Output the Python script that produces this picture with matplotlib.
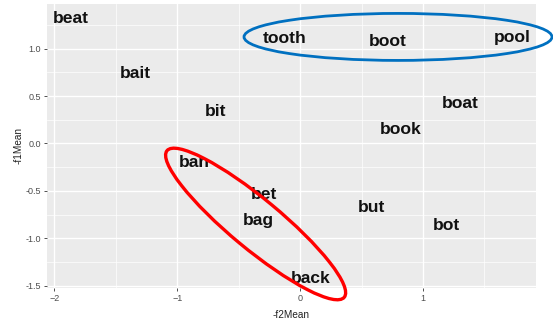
import numpy as np
import matplotlib
matplotlib.use("Agg")
import matplotlib.pyplot as plt
from matplotlib.patches import Ellipse
from matplotlib.transforms import IdentityTransform, ScaledTranslation

# vowel space: negated formant means per word
words = ["beat", "tooth", "boot", "pool", "bait", "bit", "boat", "book",
         "ban", "bet", "bag", "but", "bot", "back"]
f2_neg = [-1.87, -0.13, 0.71, 1.73, -1.34, -0.69, 1.30, 0.82,
          -0.86, -0.29, -0.34, 0.58, 1.19, 0.09]
f1_neg = [1.334, 1.123, 1.10, 1.14, 0.754, 0.353, 0.441, 0.165,
          -0.183, -0.52, -0.79, -0.655, -0.84, -1.40]

x_ticks = [-2, -1, 0, 1]
y_ticks = [-1.5, -1.0, -0.5, 0.0, 0.5, 1.0]
y_tick_labels = ["-1.5", "-1.0", "-0.5", "0.0", "0.5", "1.0"]

plt.rcParams['font.family'] = ['Liberation Sans', 'DejaVu Sans']

W, H = 553, 322
fig = plt.figure(figsize=(W / 100, H / 100), dpi=100)
ax = fig.add_axes([47 / W, (H - 288) / H, (536 - 47) / W, (288 - 4) / H])
ax.set_facecolor("#EBEBEB")
for s in ax.spines.values():
    s.set_visible(False)

ax.set_xlim(-2.06, 1.92)
ax.set_ylim(-1.524, 1.47)

# grid, ggplot style
for v in np.arange(-1.5, 2.0, 1.0):
    ax.axvline(v, color="white", lw=0.5, zorder=0)
for v in np.arange(-1.25, 1.5, 0.5):
    ax.axhline(v, color="white", lw=0.5, zorder=0)
for v in x_ticks:
    ax.axvline(v, color="white", lw=1.0, zorder=0)
for v in y_ticks:
    ax.axhline(v, color="white", lw=1.0, zorder=0)

ax.set_xticks(x_ticks)
ax.set_yticks(y_ticks)
ax.set_yticklabels(y_tick_labels)
ax.tick_params(length=2.5, width=0.6, color="#333333", labelcolor="#4D4D4D",
               labelsize=6.5, pad=2)
ax.set_xlabel("-f2Mean", fontsize=7.2, color="#222222", labelpad=5)
ax.set_ylabel("-f1Mean", fontsize=7.2, color="#222222", labelpad=1)

# word labels, nudged down a touch so the glyphs sit centred on the point
nudge = ax.transData + ScaledTranslation(0, -2 / 100, fig.dpi_scale_trans)
for w, x, y in zip(words, f2_neg, f1_neg):
    ax.text(x, y, w, ha="center", va="center", fontsize=12.6,
            fontweight="bold", color="#111111", zorder=3, transform=nudge)

# group outlines (center in data units, size in pixels)
def outline(cx, cy, w, h, angle, color, lw):
    px, py = ax.transData.transform((cx, cy))
    e = Ellipse((px, py), w, h, angle=angle, transform=IdentityTransform(),
                fill=False, edgecolor=color, lw=lw, clip_on=False, zorder=4)
    fig.add_artist(e)

outline(0.797, 1.123, 308, 47, 0, "#0070C0", 2.0)
outline(-0.362, -0.849, 230, 50, -39.6, "#FF0000", 2.4)

fig.savefig("out.png", dpi=100)
